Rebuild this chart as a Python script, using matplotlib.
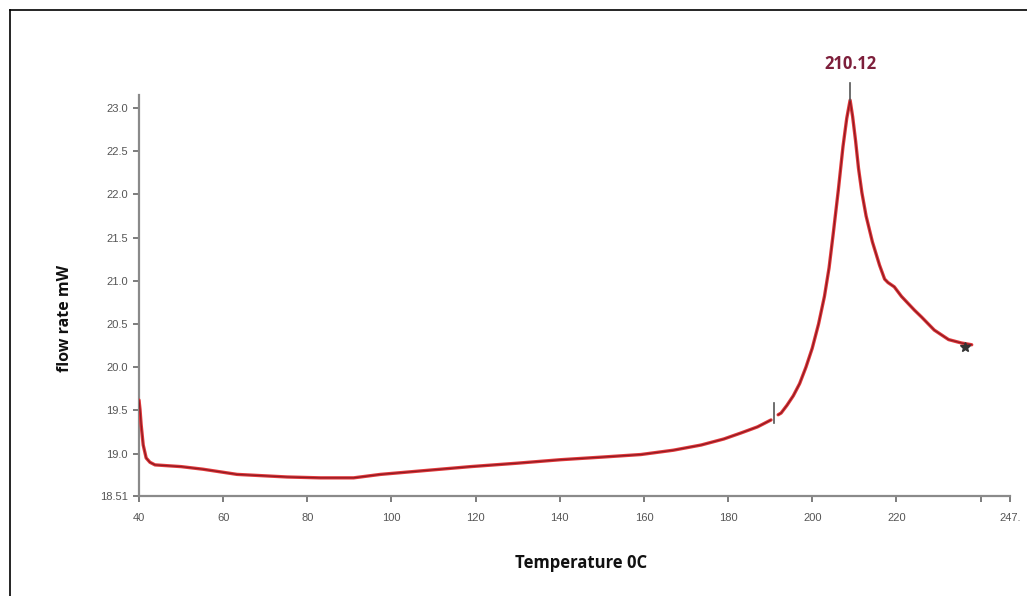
import matplotlib
matplotlib.use("Agg")
import matplotlib.pyplot as plt
from matplotlib.lines import Line2D

# ---- data ----
temp_a = [40.0, 40.24, 40.5, 41.0, 41.7, 42.6, 43.8, 50.0, 55.2, 63.3, 75.2, 83.1,
          91.0, 97.4, 106.9, 118.8, 130.0, 140.2, 150.0, 159.3, 167.0, 173.6, 179.0,
          183.1, 187.0, 190.2]
flow_a = [19.62, 19.51, 19.34, 19.10, 18.95, 18.90, 18.87, 18.85, 18.82, 18.76, 18.73, 18.72,
          18.72, 18.76, 18.80, 18.85, 18.89, 18.93, 18.96, 18.99, 19.04, 19.10, 19.17,
          19.24, 19.31, 19.39]

temp_b = [191.9, 192.6, 194.0, 195.5, 197.0, 198.5, 200.0, 201.5, 202.9, 204.0,
          205.0, 206.2, 207.3, 208.2, 209.0, 209.6, 210.3, 211.0, 211.8, 212.8,
          214.3, 216.0, 217.2, 218.0, 219.5, 221.2, 224.3, 226.0, 229.0, 232.4,
          235.5, 237.9]
flow_b = [19.45, 19.47, 19.56, 19.67, 19.81, 20.00, 20.22, 20.50, 20.82, 21.15,
          21.55, 22.05, 22.55, 22.88, 23.09, 22.90, 22.62, 22.30, 22.02, 21.75,
          21.45, 21.18, 21.02, 20.98, 20.93, 20.82, 20.66, 20.58, 20.43, 20.32,
          20.28, 20.26]

peak_temp = 209.0
peak_flow = 23.09
peak_label = "210.12"
onset_temp = 190.9
onset_flow = (19.36, 19.59)
end_temp = 236.2
end_flow = 20.23

x_ticks = [40, 60, 80, 100, 120, 140, 160, 180, 200, 220, 240, 247]
x_tick_labels = ["40", "60", "80", "100", "120", "140", "160", "180", "200", "220", "", "247."]
y_ticks = [18.51, 19.0, 19.5, 20.0, 20.5, 21.0, 21.5, 22.0, 22.5, 23.0]
y_tick_labels = ["18.51", "19.0", "19.5", "20.0", "20.5", "21.0", "21.5", "22.0", "22.5", "23.0"]

x_label = "Temperature 0C"
y_label = "flow rate mW"

# ---- figure ----
W, H = 1027, 596
fig = plt.figure(figsize=(W / 100, H / 100), dpi=100)
ax = fig.add_axes([139 / W, 1 - 496 / H, (1010 - 139) / W, (496 - 95) / H])

for t, f in ((temp_a, flow_a), (temp_b, flow_b)):
    ax.plot(t, f, color="#e0383a", lw=2.4, solid_capstyle="round",
            solid_joinstyle="round", zorder=3)
    ax.plot(t, f, color="#8e1a22", lw=0.9, solid_capstyle="round",
            solid_joinstyle="round", zorder=4)

# onset marker tick
ax.plot([onset_temp, onset_temp], list(onset_flow), color="#555555", lw=1.2, zorder=5)
# peak marker tick
ax.plot([peak_temp, peak_temp], [peak_flow, peak_flow + 0.2], color="#555555", lw=1.2,
        zorder=5, clip_on=False)
ax.text(peak_temp, peak_flow + 0.31, peak_label, ha="center", va="bottom",
        color="#7d1f3b", fontsize=12, fontweight="bold", family="Open Sans")
# end marker
ax.plot([end_temp], [end_flow], marker="*", color="#333333", ms=7, zorder=6)

ax.set_xlim(40, 247)
ax.set_ylim(18.51, 23.15)
ax.set_xticks(x_ticks)
ax.set_xticklabels(x_tick_labels)
ax.set_yticks(y_ticks)
ax.set_yticklabels(y_tick_labels)

for s in ("top", "right"):
    ax.spines[s].set_visible(False)
for s in ("left", "bottom"):
    ax.spines[s].set_color("#8a8a8a")
    ax.spines[s].set_linewidth(1.6)

ax.tick_params(axis="both", colors="#666666", length=4, width=1.2, labelsize=8,
               labelcolor="#555555")
ax.tick_params(axis="y", pad=4)
ax.tick_params(axis="x", pad=8)
for lab in ax.get_xticklabels() + ax.get_yticklabels():
    lab.set_family("Liberation Sans")

fig.text(581 / W, 1 - 563 / H, x_label, ha="center", va="center",
         fontsize=12, fontweight="bold", family="Open Sans", color="#111111")
fig.text(65 / W, 1 - 318 / H, y_label, ha="center", va="center", rotation=90,
         fontsize=11.5, fontweight="bold", family="Open Sans", color="#111111")

# frame around the picture (left and top edges visible)
fig.add_artist(Line2D([10 / W, 10 / W], [0, 1 - 10 / H], transform=fig.transFigure,
                      color="black", lw=1.2))
fig.add_artist(Line2D([10 / W, 1], [1 - 10 / H, 1 - 10 / H], transform=fig.transFigure,
                      color="black", lw=1.2))

fig.savefig("out.png", dpi=100)
